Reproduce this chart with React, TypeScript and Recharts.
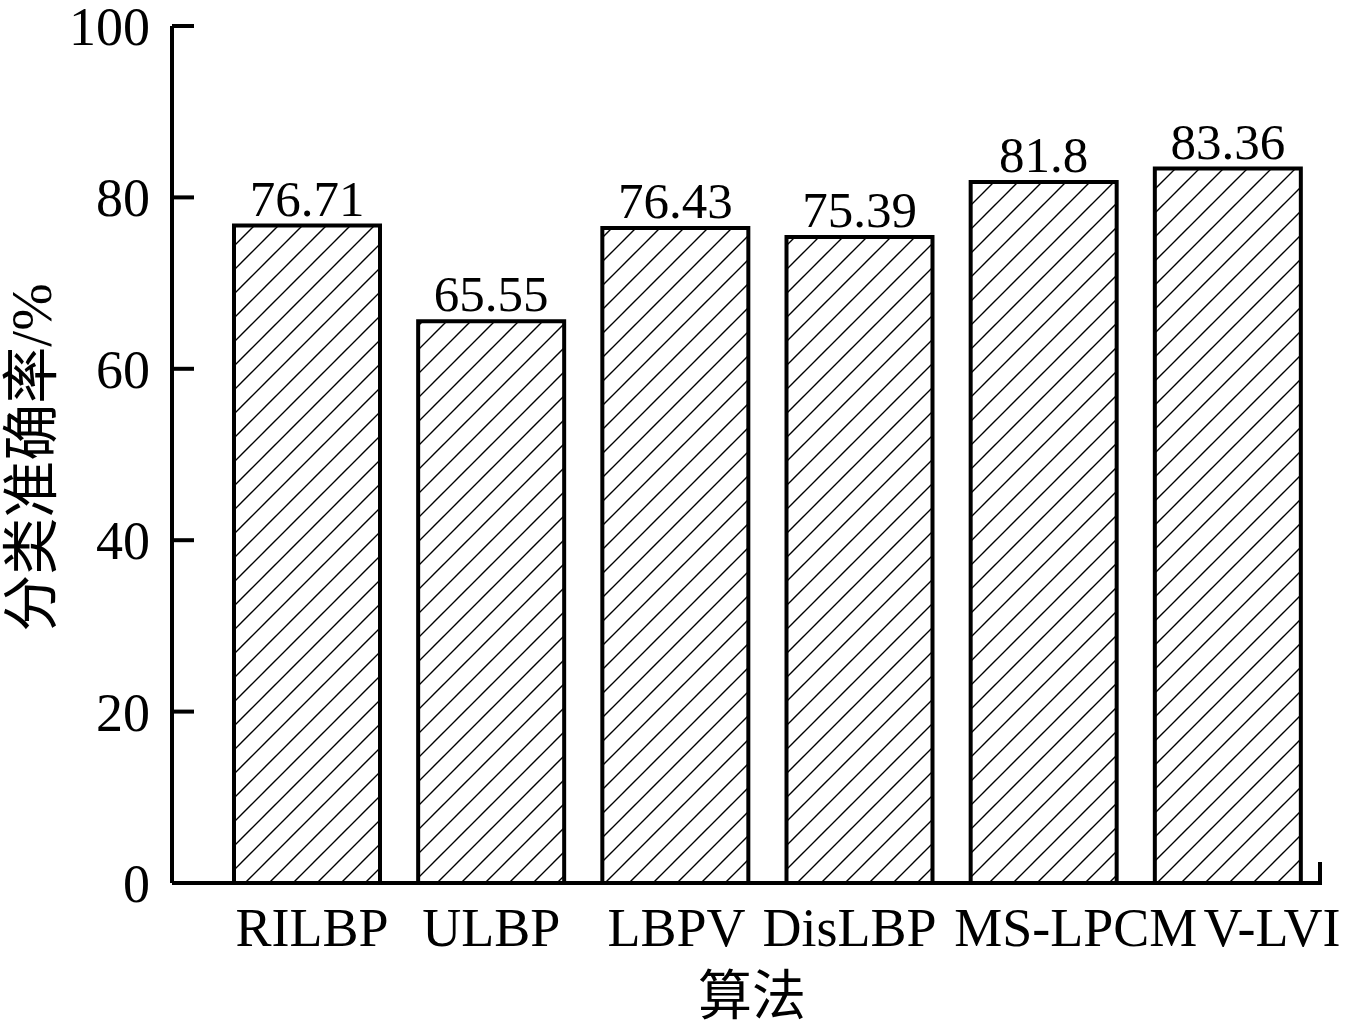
import { Bar, BarChart, LabelList, XAxis, YAxis } from 'recharts';

const algorithms = ['RILBP', 'ULBP', 'LBPV', 'DisLBP', 'MS-LPCM', 'V-LVI'];
const accuracy = [76.71, 65.55, 76.43, 75.39, 81.8, 83.36];
const yTicks = [0, 20, 40, 60, 80, 100];

// the source figure nudges some category names sideways (px)
const tickNudge = [5, 0, 1, -10, 32, 44];

const data = algorithms.map((name, i) => ({ name, value: accuracy[i] }));

const W = 1349;
const H = 1029;
const MARGIN = { top: 26, right: 29, bottom: 0, left: 0 };
const PLOT_RIGHT = W - MARGIN.right;
const FONT = '"Liberation Serif", "Times New Roman", "Noto Sans CJK SC", serif';
const INK = '#000';

// y ticks point inward (to the right); the 0 tick also draws the little end mark of the x axis
function YTick(props: any) {
  const { x, y, payload } = props;
  const axisX = x + 22;
  return (
    <g>
      {payload.value !== 0 && (
        <line x1={axisX} x2={axisX + 22} y1={y} y2={y} stroke={INK} strokeWidth={4} />
      )}
      {payload.value === 0 && (
        <line x1={PLOT_RIGHT} x2={PLOT_RIGHT} y1={y + 2} y2={y - 21} stroke={INK} strokeWidth={4} />
      )}
      <text x={x} y={y} dy="0.35em" textAnchor="end" fontFamily={FONT} fontSize={54} fill={INK}>
        {payload.value}
      </text>
    </g>
  );
}

function XTick(props: any) {
  const { x, y, payload, index } = props;
  return (
    <text
      x={x + (tickNudge[index] ?? 0)}
      y={y}
      dy="0.71em"
      textAnchor="middle"
      fontFamily={FONT}
      fontSize={54}
      fill={INK}
    >
      {payload.value}
    </text>
  );
}

export default function App() {
  return (
    <div style={{ position: 'absolute', left: 0, top: 0, width: W, height: H, background: '#fff' }}>
      <BarChart width={W} height={H} data={data} margin={MARGIN}>
        <defs>
          <pattern id="hatch" patternUnits="userSpaceOnUse" width={24} height={24}>
            <rect width={24} height={24} fill="#fff" />
            <path d="M-6,6 L6,-6 M0,24 L24,0 M18,30 L30,18" stroke={INK} strokeWidth={1.4} />
          </pattern>
        </defs>
        <XAxis
          dataKey="name"
          height={146}
          padding={{ left: 43, right: 0 }}
          axisLine={{ stroke: INK, strokeWidth: 4 }}
          tickLine={false}
          tickSize={0}
          tickMargin={25}
          interval={0}
          tick={<XTick />}
          label={{
            content: ({ viewBox }: any) => (
              <text
                x={viewBox.x + viewBox.width / 2 + 6}
                y={997}
                dominantBaseline="central"
                textAnchor="middle"
                fontFamily={FONT}
                fontSize={54}
                fill={INK}
              >
                算法
              </text>
            ),
          }}
        />
        <YAxis
          width={172}
          domain={[0, 100]}
          ticks={yTicks}
          interval={0}
          axisLine={{ stroke: INK, strokeWidth: 4 }}
          tickLine={false}
          tickSize={0}
          tickMargin={22}
          tick={<YTick />}
          label={{
            content: ({ viewBox }: any) => {
              const cx = viewBox.x + 31;
              const cy = viewBox.y + viewBox.height / 2 + 3;
              return (
                <text
                  x={cx}
                  y={cy}
                  transform={`rotate(-90, ${cx}, ${cy})`}
                  textAnchor="middle"
                  dominantBaseline="central"
                  fontFamily={FONT}
                  fontSize={57}
                  fill={INK}
                >
                  分类准确率/%
                </text>
              );
            },
          }}
        />
        <Bar
          dataKey="value"
          barSize={146}
          fill="url(#hatch)"
          stroke={INK}
          strokeWidth={4}
          isAnimationActive={false}
        >
          <LabelList
            dataKey="value"
            position="top"
            offset={10}
            fill={INK}
            fontSize={51}
            fontFamily={FONT}
          />
        </Bar>
      </BarChart>
    </div>
  );
}
